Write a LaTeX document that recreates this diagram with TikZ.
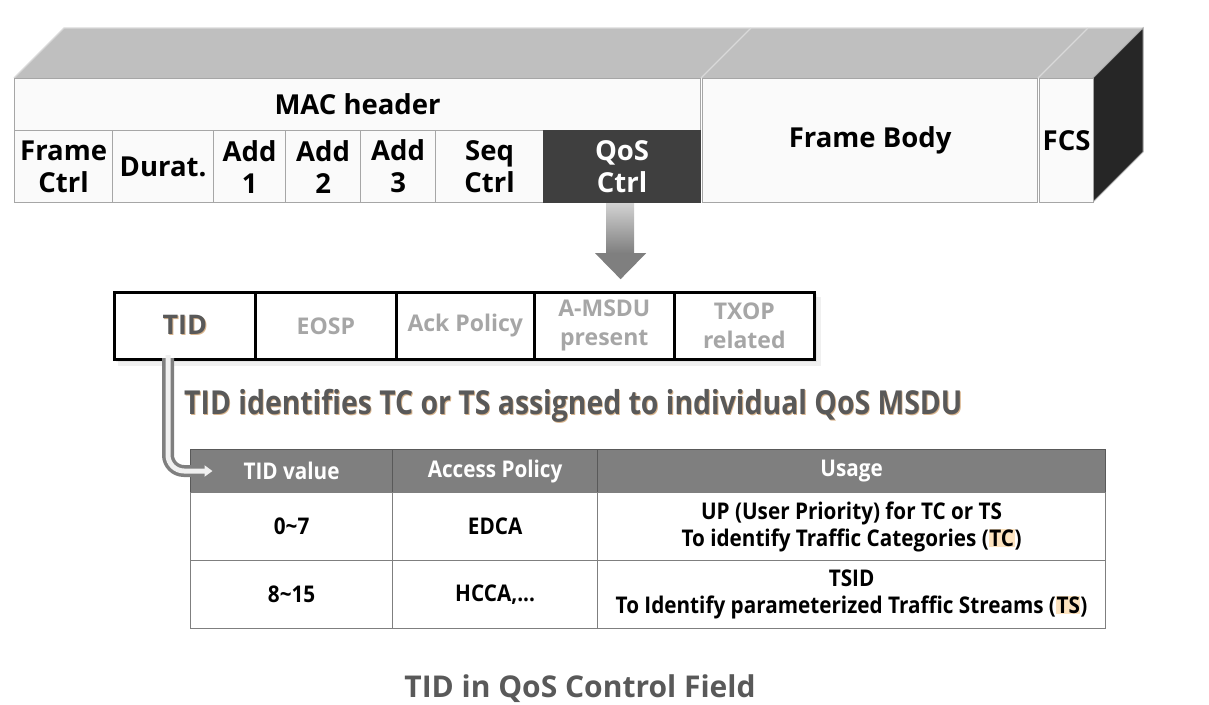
\documentclass[tikz,border=0pt]{standalone}
\usepackage{fontspec}
\setmainfont{Open Sans}
\usetikzlibrary{arrows.meta}
\definecolor{topgray}{HTML}{BFBFBF}
\definecolor{topline}{HTML}{D9D9D9}
\definecolor{edgegray}{HTML}{A6A6A6}
\definecolor{cellfill}{HTML}{FAFAFA}
\definecolor{qosdark}{HTML}{3F3F3F}
\definecolor{sidedark}{HTML}{262626}
\definecolor{fieldtxt}{HTML}{A6A6A6}
\definecolor{headgray}{HTML}{7F7F7F}
\definecolor{titlegray}{HTML}{595959}
\definecolor{glow}{HTML}{D9B48C}
\definecolor{hilite}{HTML}{FDE3BF}

\newcommand{\narrow}[1]{\scalebox{0.9}[1]{#1}}
\newcommand{\hl}[1]{{\setlength{\fboxsep}{0.6pt}\colorbox{hilite}{#1}}}
\newcommand{\glowtext}[1]{\makebox[0pt][l]{\raisebox{-1pt}{\hspace{1pt}\textcolor{glow}{#1}}}#1}

\begin{document}
\begin{tikzpicture}[x=1pt, y=-1pt, font=\bfseries,
  cell/.style={draw=edgegray, fill=cellfill, line width=1.2pt, inner sep=0pt,
    anchor=north west, align=center, font=\fontsize{27.5}{32}\selectfont\bfseries},
  field/.style={draw=black, fill=white, line width=2.6pt, inner sep=0pt,
    anchor=north west, minimum height=67pt, align=center, text=fieldtxt,
    font=\fontsize{23}{29}\selectfont\bfseries},
  tcell/.style={draw=headgray, fill=white, line width=1.2pt, inner sep=0pt,
    anchor=north west, align=center, font=\fontsize{23}{27}\selectfont\bfseries},
  thead/.style={tcell, fill=headgray, draw=titlegray, text=white}]
\useasboundingbox (0,0) rectangle (1209,704);

% ---- 3D frame block: top and side faces ----
\fill[topgray] (14,78) -- (64,28) -- (1143,28) -- (1093,78) -- cycle;
\draw[topline, line width=1.2pt] (14,78) -- (64,28) -- (1143,28);
\draw[topline, line width=1.2pt] (701,78) -- (751,28);
\draw[topline, line width=1.2pt] (1038,78) -- (1088,28);
\fill[sidedark] (1093,78) -- (1143,28) -- (1143,152) -- (1093,202) -- cycle;
\draw[edgegray, line width=1pt] (1093,78) -- (1143,28) -- (1143,152) -- (1093,202);

% ---- front face: MAC header and its fields ----
\node[cell, minimum width=686pt, minimum height=52pt] (mac) at (14,78) {MAC header};
\node[cell, minimum width=98pt, minimum height=72pt] (fctrl) at (14,130) {Frame\\Ctrl};
\node[cell, minimum width=101pt, minimum height=72pt] (durat) at (112,130) {Durat.};
\node[cell, minimum width=72pt, minimum height=72pt] (add1) at (213,130) {Add\\1};
\node[cell, minimum width=75pt, minimum height=72pt] (add2) at (285,130) {Add\\2};
\node[cell, minimum width=75pt, minimum height=72pt] (add3) at (360,130) {Add\\3};
\node[cell, minimum width=108pt, minimum height=72pt] (seq) at (435,130) {Seq\\Ctrl};
\node[cell, fill=qosdark, draw=qosdark, text=white, minimum width=157pt, minimum height=72pt] (qos) at (543,130) {QoS\\Ctrl};
\node[cell, minimum width=335pt, minimum height=124pt] (body) at (702,78) {Frame Body};
\node[cell, minimum width=54pt, minimum height=124pt] (fcs) at (1039,78) {FCS};

% ---- block arrow down to the QoS control subfields ----
\shade[top color=topgray!70, bottom color=headgray] (qos.south) ++(-16,0) rectangle ++(28,50);
\fill[headgray] (qos.south) ++(-27,50) -- ++(51,0) -- ++(-25.5,26) -- cycle;

% ---- QoS control subfields ----
\fill[black, opacity=0.06] (118,297) rectangle (821,366);
\fill[black, opacity=0.06] (116,294) rectangle (817,362);
\node[field, minimum width=141pt, text=titlegray, font=\fontsize{27}{29}\selectfont\bfseries] (tid) at (113,291) {\glowtext{TID}};
\node[field, minimum width=141pt] (eosp) at (254,291) {EOSP};
\node[field, minimum width=138pt] (ack) at (395,291) {Ack Policy};
\node[field, minimum width=140pt] (amsdu) at (533,291) {A-MSDU\\present};
\node[field, minimum width=140pt] (txop) at (673,291) {TXOP\\related};

% title line
\node[anchor=west, inner sep=0pt, text=titlegray, font=\fontsize{33}{33}\selectfont\bfseries]
  (title) at (184,406) {\scalebox{0.86}[1]{\glowtext{TID identifies TC or TS assigned to individual QoS MSDU}}};

% ---- TID table ----
\node[thead, minimum width=202pt, minimum height=43pt] (tidv) at (190,449) {\narrow{TID value}};
\node[thead, minimum width=205pt, minimum height=43pt] (apol) at (392,449) {\narrow{Access Policy}};
\node[thead, minimum width=508pt, minimum height=43pt] (usage) at (597,449) {\narrow{Usage}};
\node[tcell, minimum width=202pt, minimum height=68pt] (val1) at (190,492) {\narrow{0\textasciitilde 7}};
\node[tcell, minimum width=205pt, minimum height=68pt] (pol1) at (392,492) {\narrow{EDCA}};
\node[tcell, minimum width=508pt, minimum height=68pt] (use1) at (597,492)
  {\narrow{UP (User Priority) for TC or TS}\\\narrow{To identify Traffic Categories (\hl{TC})}};
\node[tcell, minimum width=202pt, minimum height=68pt] (val2) at (190,560) {\narrow{8\textasciitilde 15}};
\node[tcell, minimum width=205pt, minimum height=68pt] (pol2) at (392,560) {\narrow{HCCA,...}};
\node[tcell, minimum width=508pt, minimum height=68pt] (use2) at (597,560)
  {\narrow{TSID}\\\narrow{To Identify parameterized Traffic Streams (\hl{TS})}};

% ---- hollow arrow from TID to the table ----
\coordinate (lstart) at (168,358);
\coordinate (ltip) at (216,471);
\draw[headgray, line width=12pt, rounded corners=16pt, -{Triangle[length=12pt, width=20pt]}]
  (lstart) |- (ltip);
\draw[white!94!black, line width=5pt, rounded corners=16pt, shorten >=3.5pt,
  -{Triangle[length=8pt, width=11pt]}] ([yshift=3pt]lstart) |- (ltip);

% caption
\node[text=titlegray, font=\fontsize{30}{30}\selectfont\bfseries] (caption) at (580,689) {TID in QoS Control Field};
\end{tikzpicture}
\end{document}
